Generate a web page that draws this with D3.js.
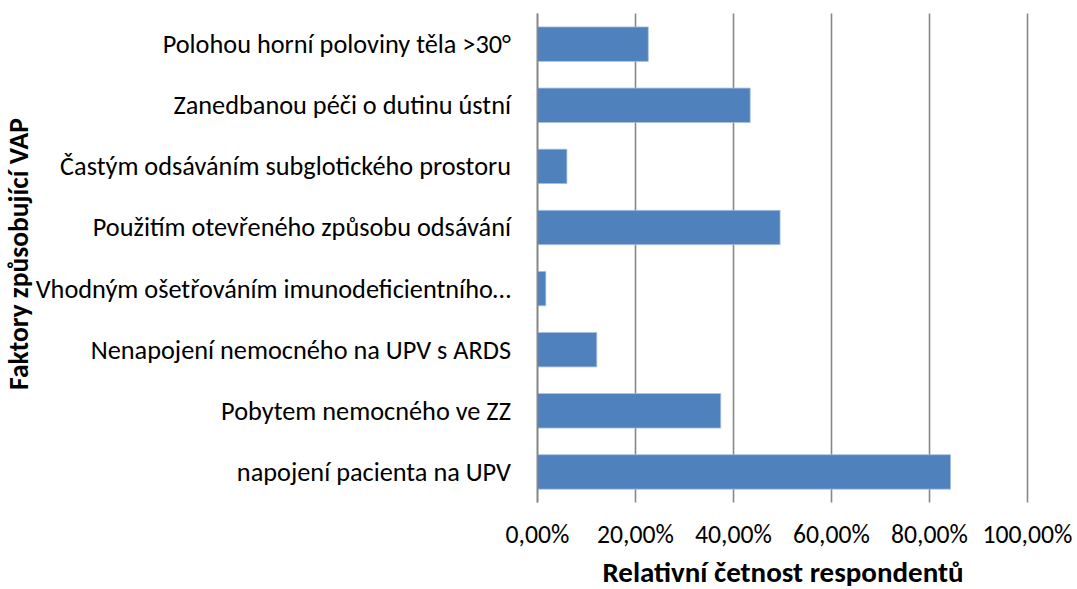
<!DOCTYPE html>
<html>
<head>
<meta charset="utf-8">
<script src="https://cdn.jsdelivr.net/npm/d3@7"></script>
<style>
  html, body { margin: 0; padding: 0; background: #fff; }
  svg { display: block; }
  text { font-family: Carlito, Calibri, Lato, "Open Sans", sans-serif; fill: #000; }
</style>
</head>
<body>
<svg id="chart" width="1077" height="589"></svg>
<script>
// Factors contributing to VAP, share of respondents (%)
const categories = [
  "Polohou horní poloviny těla >30°",
  "Zanedbanou péči o dutinu ústní",
  "Častým odsáváním subglotického prostoru",
  "Použitím otevřeného způsobu odsávání",
  "Vhodným ošetřováním imunodeficientního…",
  "Nenapojení nemocného na UPV s ARDS",
  "Pobytem nemocného ve ZZ",
  "napojení pacienta na UPV"
];
const values = [22.6, 43.4, 6.0, 49.5, 1.7, 12.1, 37.4, 84.3];
const tickValues = [0, 20, 40, 60, 80, 100];
const tickLabels = ["0,00%", "20,00%", "40,00%", "60,00%", "80,00%", "100,00%"];
const xTitle = "Relativní četnost respondentů";
const yTitle = "Faktory způsobující VAP";

const svg = d3.select("#chart");
const plot = { left: 537.5, right: 1027.5, top: 13.6, bottom: 502.5 };

const x = d3.scaleLinear().domain([0, 100]).range([plot.left, plot.right]);
const y = d3.scaleBand().domain(categories).range([plot.top, plot.bottom])
  .paddingInner(0.437).paddingOuter(0.2185);

// vertical gridlines (the one at 0 doubles as the category axis)
svg.append("g").selectAll("line").data(tickValues).join("line")
  .attr("x1", d => x(d)).attr("x2", d => x(d))
  .attr("y1", plot.top).attr("y2", plot.bottom)
  .attr("stroke", "#878787").attr("stroke-width", 1.6);

// bars
svg.append("g").selectAll("rect").data(values).join("rect")
  .attr("x", x(0))
  .attr("y", (d, i) => y(categories[i]))
  .attr("width", d => x(d) - x(0))
  .attr("height", y.bandwidth())
  .attr("fill", "#4F81BD")
  .attr("stroke", "#A7BFDE").attr("stroke-width", 0.8);

// redraw the axis line over the bar edges
svg.append("line")
  .attr("x1", x(0)).attr("x2", x(0)).attr("y1", plot.top).attr("y2", plot.bottom)
  .attr("stroke", "#878787").attr("stroke-width", 1.6);

// category labels
svg.append("g").selectAll("text").data(categories).join("text")
  .attr("x", 511)
  .attr("y", d => y(d) + y.bandwidth() / 2 + 9)
  .attr("text-anchor", "end")
  .attr("font-size", 26.3)
  .text(d => d);

// value axis tick labels
svg.append("g").selectAll("text").data(tickValues).join("text")
  .attr("x", d => x(d))
  .attr("y", 542.5)
  .attr("text-anchor", "middle")
  .attr("font-size", 25.7)
  .text((d, i) => tickLabels[i]);

// axis titles
svg.append("text")
  .attr("x", 783).attr("y", 581.5)
  .attr("text-anchor", "middle").attr("font-size", 29).attr("font-weight", "bold")
  .text(xTitle);

svg.append("text")
  .attr("transform", "translate(28,254) rotate(-90)")
  .attr("text-anchor", "middle").attr("font-size", 27.5).attr("font-weight", "bold")
  .text(yTitle);
</script>
</body>
</html>
